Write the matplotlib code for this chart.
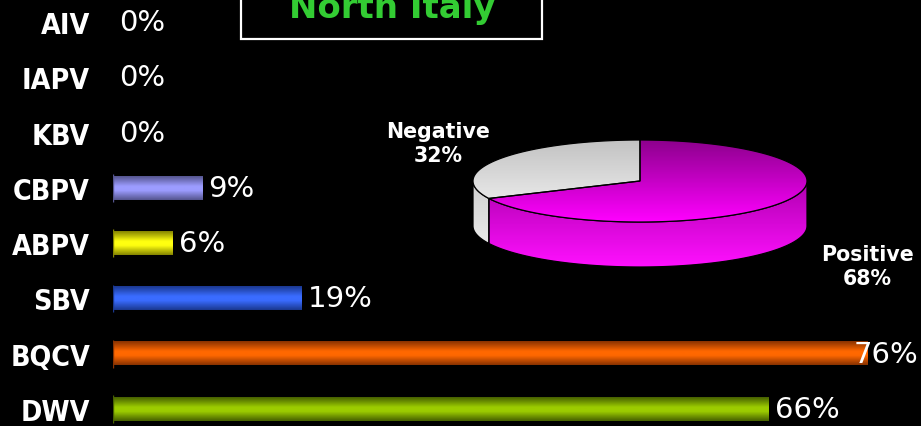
#!/usr/bin/env python3
"""Virus prevalence in North Italy apiaries: bar chart plus 3-D style positive/negative pie."""
import numpy as np
import matplotlib
matplotlib.use("Agg")
import matplotlib.pyplot as plt
from matplotlib.colors import LinearSegmentedColormap
from matplotlib.patches import Polygon, Rectangle

viruses = ["AIV", "IAPV", "KBV", "CBPV", "ABPV", "SBV", "BQCV", "DWV"]
prevalence = [0, 0, 0, 9, 6, 19, 76, 66]

pie_names = ["Positive", "Negative"]
pie_values = [68, 32]

region = "North Italy"

# (edge shade, highlight) per bar
bar_shades = {
    "CBPV": ("#55558f", "#9c9cff"),
    "ABPV": ("#858500", "#ffff10"),
    "SBV": ("#1a3890", "#3a6cff"),
    "BQCV": ("#883200", "#ff6800"),
    "DWV": ("#466000", "#9ccc00"),
}
pie_shades = {
    "Positive": (("#8c008c", "#ff00ff"), ("#b000b0", "#ff10ff")),
    "Negative": (("#c2c2c2", "#f6f6f6"), ("#d0d0d0", "#f4f4f4")),
}

W, H = 921, 427
fig = plt.figure(figsize=(W / 100, H / 100), dpi=100, facecolor="black")

# ---- bars ----
ax = fig.add_axes([113 / W, 0, 1 - 113 / W, 1])
ax.set_facecolor("black")
px_per_pct = 9.93
row_px, first_row = 55.3, 23
xlim = (0, (W - 113) / px_per_pct)
ylim = ((H - first_row) / row_px, -first_row / row_px)

bars = ax.barh(range(len(viruses)), prevalence, height=0.42, color="none")
grad = np.linspace(0, 1, 64).reshape(-1, 1)
for bar, name, v in zip(bars, viruses, prevalence):
    if v == 0:
        continue
    dark, bright = bar_shades[name]
    cmap = LinearSegmentedColormap.from_list(
        name, [(0, dark), (0.42, bright), (0.6, bright), (1, dark)])
    x0, y0, w, h = bar.get_x(), bar.get_y(), bar.get_width(), bar.get_height()
    ax.imshow(grad, cmap=cmap, aspect="auto", origin="upper",
              extent=(x0, x0 + w, y0 + h, y0), interpolation="bilinear")
    ax.vlines(x0 - 0.05, y0 - 0.04, y0 + h + 0.04, color=dark, lw=1)

ax.set_xlim(*xlim)
ax.set_ylim(*ylim)
ax.set_xticks([])
ax.set_yticks(range(len(viruses)))
ax.set_yticklabels(viruses, family="DejaVu Sans", fontstretch="condensed",
                   fontweight="bold", fontsize=20.5, color="white")
ax.tick_params(axis="y", length=0, pad=16.5)
for s in ax.spines.values():
    s.set_visible(False)

for i, v in enumerate(prevalence):
    style = dict(va="center", color="white", fontsize=21, family="DejaVu Sans",
                 textcoords="offset points", zorder=5)
    if v + 8 > xlim[1]:
        # no room past the bar end: pin to the right edge
        ax.annotate(f"{v}%", xy=(1, i), xycoords=("axes fraction", "data"),
                    xytext=(-2, 0), ha="right", **style)
    else:
        ax.annotate(f"{v}%", xy=(v, i), xytext=(4.5, 0), ha="left", **style)

# ---- overlay in pixel coordinates: title box and pie ----
ov = fig.add_axes([0, 0, 1, 1])
ov.patch.set_visible(False)
ov.axis("off")

ov.add_patch(Rectangle((241, -10), 301, 50, fill=False, edgecolor="white", lw=1.6))
ov.text(392, 18, region, ha="center", va="baseline", color="#33cc33",
        fontsize=24.5, fontweight="bold", family="DejaVu Sans")

cx, cy, rx, ry, depth = 640, 182, 167, 41, 45


def arc(t0, t1, dy=0, n=200):
    t = np.radians(np.linspace(t0, t1, n))
    return np.column_stack([cx + rx * np.cos(t), cy - ry * np.sin(t) + dy])


def shaded(verts, top, bot, ytop, ybot, z):
    poly = Polygon(verts, closed=True, facecolor="none", edgecolor="black",
                   lw=0.9, zorder=z + 0.5)
    ov.add_patch(poly)
    cmap = LinearSegmentedColormap.from_list("s", [top, bot])
    im = ov.imshow(grad, cmap=cmap, aspect="auto", origin="upper", zorder=z,
                   extent=(verts[:, 0].min(), verts[:, 0].max(), ybot, ytop))
    im.set_clip_path(poly)


fracs = np.array(pie_values) / sum(pie_values)
starts = 90 - 360 * np.concatenate([[0], np.cumsum(fracs)[:-1]])
ends = starts - 360 * fracs

# front wall: only the part of each slice facing the viewer (angles -180..0)
for name, a, b in zip(pie_names, starts, ends):
    for k in (-360, 0, 360):
        lo, hi = max(b, -180 + k), min(a, 0 + k)
        if hi <= lo:
            continue
        verts = np.vstack([arc(hi, lo), arc(lo, hi, dy=depth)])
        top, bot = pie_shades[name][1]
        shaded(verts, top, bot, cy, cy + ry + depth, 2)

for name, a, b in zip(pie_names, starts, ends):
    verts = np.vstack([[cx, cy], arc(a, b)])
    top, bot = pie_shades[name][0]
    shaded(verts, top, bot, cy - ry, cy + ry, 4)

label_pos = {"Negative": (438, 144), "Positive": (867, 267)}
for name, v in zip(pie_names, pie_values):
    ov.text(*label_pos[name], f"{name}\n{v}%", ha="center", va="center",
            color="white", fontsize=14.8, fontweight="bold", family="DejaVu Sans",
            linespacing=1.2)

ov.set_xlim(0, W)
ov.set_ylim(H, 0)

fig.savefig("out.png", dpi=100, facecolor="black")
